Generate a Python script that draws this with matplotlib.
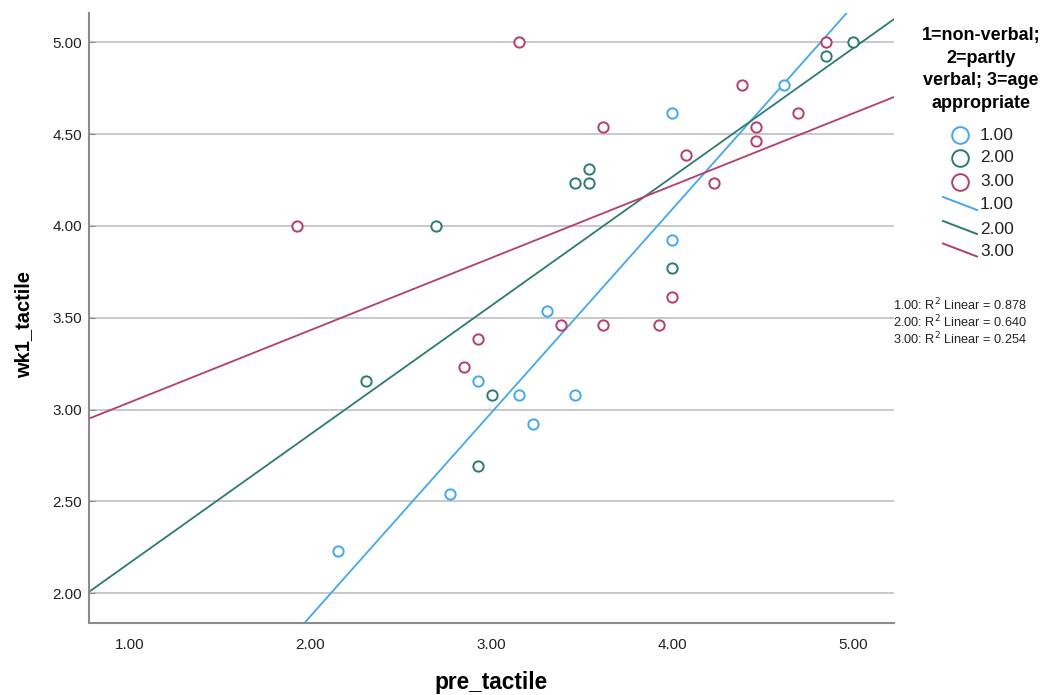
import matplotlib
matplotlib.use('Agg')
import matplotlib.pyplot as plt
import numpy as np
from matplotlib.lines import Line2D

plt.rcParams['font.family'] = ['Liberation Sans', 'DejaVu Sans']

# data (scores are means over 13 items)
groups = ['1.00', '2.00', '3.00']
colors = ['#41a8f2', '#2b7c70', '#b83b6e']
r2_text = ['0.878', '0.640', '0.254']

pre_1 = [4.000, 4.615, 4.000, 3.308, 2.923, 3.154, 3.462, 3.231, 2.769, 2.154]
wk1_1 = [4.615, 4.769, 3.923, 3.538, 3.154, 3.077, 3.077, 2.923, 2.538, 2.231]

pre_2 = [2.692, 5.000, 4.846, 3.538, 3.462, 3.538, 4.000, 2.308, 3.000, 2.923]
wk1_2 = [4.000, 5.000, 4.923, 4.308, 4.231, 4.231, 3.769, 3.154, 3.077, 2.692]

pre_3 = [1.923, 3.154, 4.846, 4.385, 4.692, 3.615, 4.462, 4.462, 4.077, 4.231,
         4.000, 3.385, 3.615, 3.923, 2.923, 2.846]
wk1_3 = [4.000, 5.000, 5.000, 4.769, 4.615, 4.538, 4.538, 4.462, 4.385, 4.231,
         3.615, 3.462, 3.462, 3.462, 3.385, 3.231]

xs = [pre_1, pre_2, pre_3]
ys = [wk1_1, wk1_2, wk1_3]

yticks = [2.0, 2.5, 3.0, 3.5, 4.0, 4.5, 5.0]
xticks = [1.0, 2.0, 3.0, 4.0, 5.0]

W, H = 1059, 695
fig = plt.figure(figsize=(W / 100, H / 100), dpi=100)
ax = fig.add_axes([89 / W, 1 - 622.7 / H, (894 - 89) / W, (622.7 - 12.7) / H])

xlim = (0.776, 5.224)
ylim = (1.839, 5.161)

for y in yticks:
    ax.axhline(y, color='#c4c4c4', lw=1.3, zorder=0)

# regression lines across the whole axis
xx = np.array(xlim)
for x, y, c in zip(xs, ys, colors):
    b, a = np.polyfit(x, y, 1)
    ax.plot(xx, a + b * xx, color=c, lw=1.3, zorder=2)

for x, y, c in zip(xs, ys, colors):
    ax.scatter(x, y, s=55, facecolors='white', edgecolors=c, linewidths=1.4, zorder=3)

ax.set_xlim(xlim)
ax.set_ylim(ylim)
ax.set_xticks(xticks)
ax.set_yticks(yticks)
ax.set_xticklabels(['%.2f' % v for v in xticks])
ax.set_yticklabels(['%.2f' % v for v in yticks])
ax.tick_params(axis='y', direction='in', length=4, color='#8c8c8c', pad=5,
               labelsize=11, labelcolor='#222222')
ax.tick_params(axis='x', direction='in', length=0, pad=11,
               labelsize=11, labelcolor='#222222')
for s in ['top', 'right']:
    ax.spines[s].set_visible(False)
for s in ['left', 'bottom']:
    ax.spines[s].set_color('#8c8c8c')
    ax.spines[s].set_linewidth(1.5)

fig.text(491 / W, 1 - 683 / H, 'pre_tactile', ha='center', va='center',
         fontsize=16.3, fontweight='bold')
fig.text(24 / W, 1 - 324 / H, 'wk1_tactile', ha='center', va='center',
         rotation=90, fontsize=14.5, fontweight='bold')

# legend, drawn by hand to copy the layout
fig.text(981 / W, 1 - 27 / H, '1=non-verbal;\n2=partly\nverbal; 3=age\nappropriate',
         ha='center', va='top', fontsize=13, fontweight='bold', linespacing=1.43)
circ_y = [135, 158, 181.5]
for g, c, yy in zip(groups, colors, circ_y):
    fig.add_artist(Line2D([960 / W], [1 - yy / H], marker='o', ms=12, mfc='none',
                          mec=c, mew=1.4, ls='none'))
    fig.text(980 / W, 1 - yy / H, g, ha='left', va='center', fontsize=12.5,
             color='#222222')
line_y = [205, 229, 251.5]
for g, c, yy in zip(groups, colors, line_y):
    fig.add_artist(Line2D([943 / W, 977 / W], [1 - (yy - 8) / H, 1 - (yy + 5) / H],
                          color=c, lw=1.4))
    fig.text(980 / W, 1 - yy / H, g, ha='left', va='center', fontsize=12.5,
             color='#222222')

for i, (g, r) in enumerate(zip(groups, r2_text)):
    fig.text(893 / W, 1 - (305 + 17 * i) / H, '%s: R$^2$ Linear = %s' % (g, r),
             ha='left', va='center', fontsize=9.2, color='#222222')

fig.savefig('out.png', dpi=100)
